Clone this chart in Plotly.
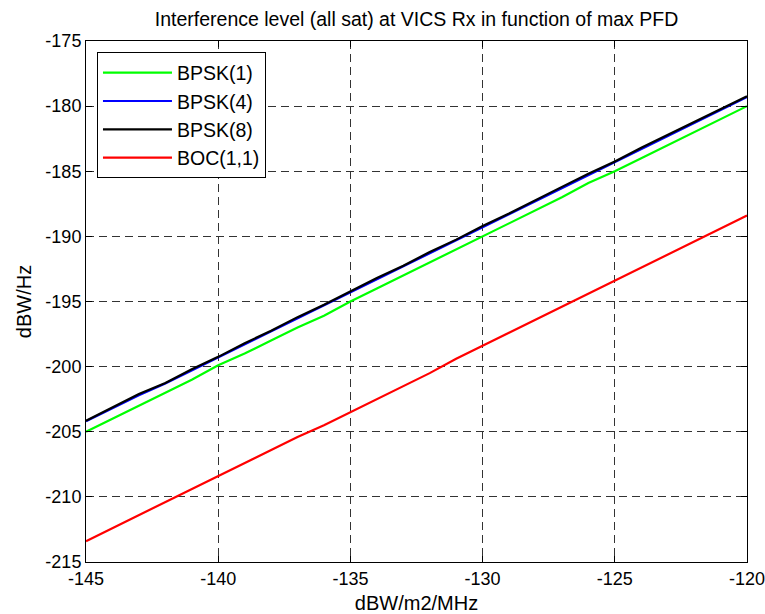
import plotly.graph_objects as go

pfd = [-145, -144, -143, -142, -141, -140, -139, -138, -137, -136, -135, -134, -133,
       -132, -131, -130, -129, -128, -127, -126, -125, -124, -123, -122, -121, -120]

bpsk1 = [-205.0, -204.0, -203.0, -202.0, -201.0, -199.9, -199.0, -198.0, -197.0, -196.1,
         -195.0, -194.0, -193.0, -192.0, -191.0, -190.0, -189.0, -188.0, -187.0, -185.9,
         -185.0, -184.0, -183.0, -182.0, -181.0, -180.0]

bpsk4 = [-204.2, -203.2, -202.2, -201.3, -200.3, -199.3, -198.3, -197.3, -196.3, -195.3,
         -194.3, -193.3, -192.3, -191.3, -190.3, -189.3, -188.3, -187.3, -186.3, -185.3,
         -184.3, -183.3, -182.3, -181.3, -180.3, -179.3]

bpsk8 = [-204.15, -203.1, -202.1, -201.25, -200.2, -199.25, -198.2, -197.25, -196.2, -195.25,
         -194.2, -193.2, -192.25, -191.2, -190.25, -189.2, -188.25, -187.2, -186.2, -185.2,
         -184.25, -183.2, -182.2, -181.25, -180.2, -179.25]

boc11 = [-213.4, -212.4, -211.4, -210.4, -209.4, -208.4, -207.4, -206.4, -205.4, -204.5,
         -203.5, -202.5, -201.5, -200.5, -199.4, -198.4, -197.4, -196.4, -195.4, -194.4,
         -193.4, -192.4, -191.4, -190.4, -189.4, -188.4]

series = [
    ("BPSK(1)", bpsk1, "#00ff00"),
    ("BPSK(4)", bpsk4, "#0000ff"),
    ("BPSK(8)", bpsk8, "#000000"),
    ("BOC(1,1)", boc11, "#ff0000"),
]

x_ticks = [-145, -140, -135, -130, -125, -120]
y_ticks = [-215, -210, -205, -200, -195, -190, -185, -180, -175]

FONT = "Liberation Sans, Arial, Helvetica, sans-serif"

fig = go.Figure()
for name, vals, color in series:
    fig.add_trace(go.Scatter(x=pfd, y=vals, mode="lines", name=name,
                             line=dict(color=color, width=2.2)))

axis_common = dict(
    showline=True, linecolor="black", linewidth=1, mirror="ticks",
    ticks="inside", ticklen=6, tickcolor="black", tickwidth=1,
    showgrid=True, gridcolor="#333333", gridwidth=1, griddash="8px,5px",
    zeroline=False, ticklabeloverflow="allow", automargin=False,
    tickfont=dict(family=FONT, size=18, color="black"),
)

fig.update_layout(
    width=765, height=614,
    margin=dict(l=86, r=18, t=41, b=52, autoexpand=False),
    paper_bgcolor="white", plot_bgcolor="white",
    title=dict(text="Interference level (all sat) at VICS Rx in function of max PFD",
               font=dict(family=FONT, size=19.5, color="black"),
               x=0.5, xanchor="center", xref="paper",
               y=1 - 19 / 614, yref="container", yanchor="middle"),
    xaxis=dict(range=[-145, -120], tickvals=x_ticks,
               ticktext=[str(v) for v in x_ticks],
               title=dict(text="dBW/m2/MHz", font=dict(family=FONT, size=20, color="black"),
                          standoff=10),
               **axis_common),
    yaxis=dict(range=[-215, -175], tickvals=y_ticks,
               ticktext=[str(v) for v in y_ticks],
               title=dict(text="dBW/Hz", font=dict(family=FONT, size=20, color="black"),
                          standoff=8),
               **axis_common),
    legend=dict(x=0.0166, y=0.978, xanchor="left", yanchor="top",
                bgcolor="white", bordercolor="black", borderwidth=1,
                font=dict(family=FONT, size=19.5, color="black"),
                itemwidth=69, tracegroupgap=0),
    showlegend=True,
)

fig.write_html("out.html")
